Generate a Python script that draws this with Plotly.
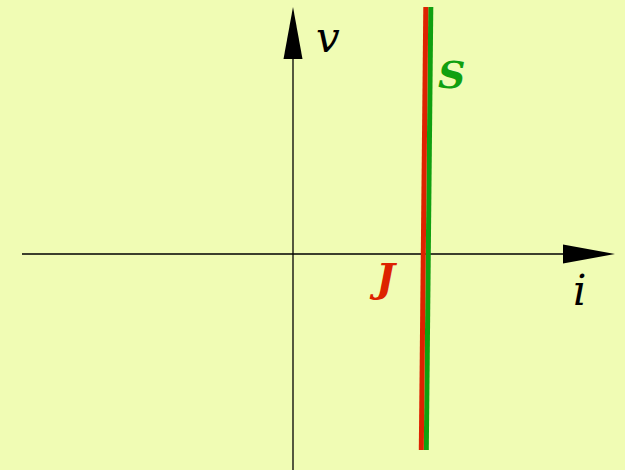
import plotly.graph_objects as go

# Data (pixel-like units, origin at the axes crossing)
v_ends = [247, -196]          # v values at the top and bottom of the characteristics
i_J = [132.8, 128.3]          # J characteristic (red)
i_S = [137.8, 133.3]          # S characteristic (green)

x_range = [-293, 332]
y_range = [-216, 254]

h_axis = [-271, 322]          # horizontal axis extent (tip at right)
v_axis = [-216, 247]          # vertical axis extent (tip at top)
head_len = 52
head_half = 9.5

bg = "#f0fcb4"
red = "#dd2200"
green = "#10a010"

fig = go.Figure()

# axes
fig.add_trace(go.Scatter(x=[h_axis[0], h_axis[1] - head_len], y=[0, 0], mode="lines",
                         line=dict(color="black", width=1.3), hoverinfo="skip"))
fig.add_trace(go.Scatter(x=[0, 0], y=[v_axis[0], v_axis[1] - head_len], mode="lines",
                         line=dict(color="black", width=1.3), hoverinfo="skip"))
# arrow heads
hx = h_axis[1]
fig.add_trace(go.Scatter(x=[hx - head_len, hx, hx - head_len, hx - head_len],
                         y=[head_half, 0, -head_half, head_half],
                         mode="lines", fill="toself", fillcolor="black",
                         line=dict(color="black", width=0), hoverinfo="skip"))
vy = v_axis[1]
fig.add_trace(go.Scatter(x=[-head_half, 0, head_half, -head_half],
                         y=[vy - head_len, vy, vy - head_len, vy - head_len],
                         mode="lines", fill="toself", fillcolor="black",
                         line=dict(color="black", width=0), hoverinfo="skip"))

# characteristics
fig.add_trace(go.Scatter(x=i_S, y=v_ends, mode="lines",
                         line=dict(color=green, width=5), hoverinfo="skip"))
fig.add_trace(go.Scatter(x=i_J, y=v_ends, mode="lines",
                         line=dict(color=red, width=5), hoverinfo="skip"))

serif = "DejaVu Serif"
fig.add_annotation(x=35, y=217, text="<i>v</i>", showarrow=False,
                   font=dict(family=serif, size=42, color="black"))
fig.add_annotation(x=286, y=-36, text="<i>i</i>", showarrow=False,
                   font=dict(family=serif, size=42, color="black"))
fig.add_annotation(x=158, y=180, text="<b><i>S</i></b>", showarrow=False,
                   font=dict(family=serif, size=38, color=green))
fig.add_annotation(x=90, y=-23, text="<b><i>J</i></b>", showarrow=False,
                   font=dict(family=serif, size=40, color=red))

fig.update_layout(
    width=625, height=470,
    margin=dict(l=0, r=0, t=0, b=0),
    paper_bgcolor=bg, plot_bgcolor=bg,
    showlegend=False,
    xaxis=dict(range=x_range, visible=False, fixedrange=True),
    yaxis=dict(range=y_range, visible=False, fixedrange=True),
)

fig.write_html("out.html", config={"displayModeBar": False},
               post_script="document.body.style.margin='0';document.body.style.background='%s';" % bg)
